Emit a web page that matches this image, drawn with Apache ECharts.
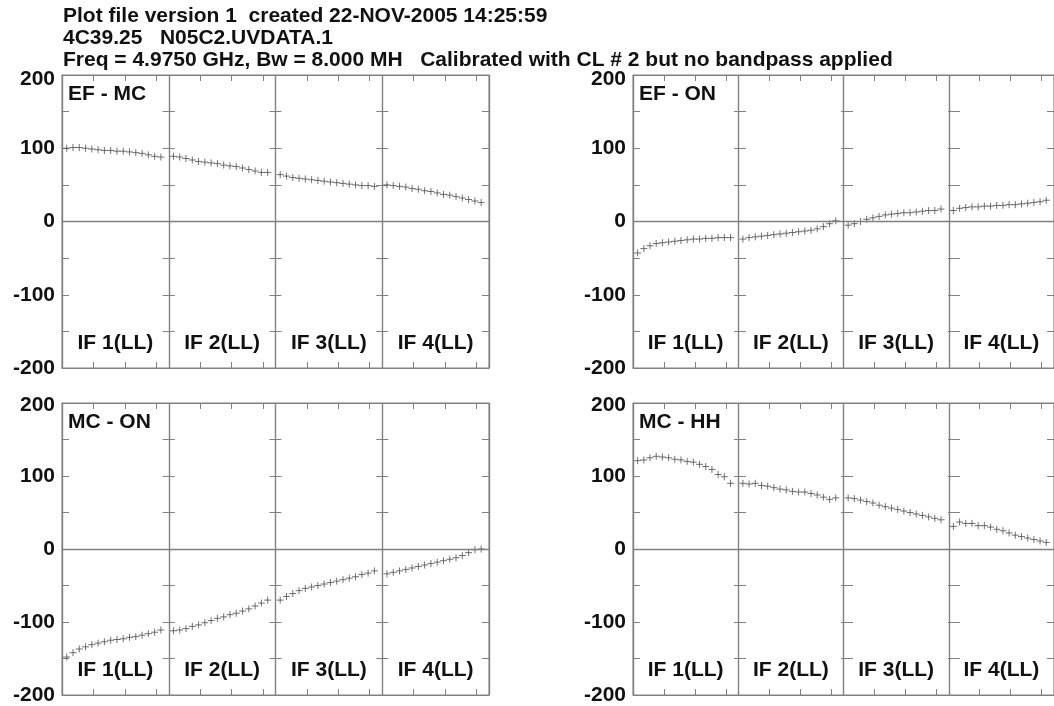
<!DOCTYPE html>
<html>
<head>
<meta charset="utf-8">
<script src="https://cdn.jsdelivr.net/npm/echarts@6/dist/echarts.min.js"></script>
<style>
html,body{margin:0;padding:0;background:#fff;}
#chart{width:1054px;height:706px;}
</style>
</head>
<body>
<div id="chart"></div>
<script>
// ---------- data ----------
const HEADER_LINES = [
  'Plot file version 1  created 22-NOV-2005 14:25:59',
  '4C39.25   N05C2.UVDATA.1',
  'Freq = 4.9750 GHz, Bw = 8.000 MH   Calibrated with CL # 2 but no bandpass applied'
];
const IF_NAMES = ['IF 1(LL)', 'IF 2(LL)', 'IF 3(LL)', 'IF 4(LL)'];
const CHANNELS = [1, 2, 3, 4, 5, 6, 7, 8, 9, 10, 11, 12, 13, 14, 15, 16];
const CHANNEL_TICKS = [5, 10, 15];
const Y_TICK_LABELS = [-200, -100, 0, 100, 200];
const BASELINES = ['EF - MC', 'EF - ON', 'MC - ON', 'MC - HH'];

const EF_MC_IF1 = [100, 101, 101, 100, 99, 98, 97, 97, 96, 96, 95, 94, 93, 91, 89, 88];
const EF_MC_IF2 = [89, 88, 86, 84, 82, 81, 80, 79, 77, 76, 75, 73, 71, 69, 67, 67];
const EF_MC_IF3 = [64, 62, 60, 59, 58, 57, 56, 55, 54, 53, 52, 51, 50, 49, 49, 48];
const EF_MC_IF4 = [50, 49, 48, 47, 45, 44, 42, 41, 39, 37, 36, 34, 32, 30, 28, 26];

const EF_ON_IF1 = [-43, -37, -33, -30, -29, -28, -27, -26, -25, -24, -24, -23, -23, -22, -22, -22];
const EF_ON_IF2 = [-24, -22, -21, -20, -19, -18, -17, -16, -15, -14, -13, -12, -10, -7, -3, 1];
const EF_ON_IF3 = [-5, -3, 0, 3, 5, 7, 9, 10, 11, 12, 12, 13, 14, 15, 15, 17];
const EF_ON_IF4 = [15, 18, 19, 20, 20, 21, 21, 22, 22, 23, 23, 24, 25, 26, 27, 29];

const MC_ON_IF1 = [-148, -142, -137, -134, -131, -129, -127, -125, -124, -123, -121, -120, -118, -116, -114, -111];
const MC_ON_IF2 = [-112, -111, -109, -106, -104, -101, -98, -95, -93, -90, -88, -85, -82, -78, -74, -70];
const MC_ON_IF3 = [-70, -65, -61, -57, -54, -52, -50, -48, -46, -44, -42, -40, -38, -35, -33, -30];
const MC_ON_IF4 = [-34, -32, -30, -28, -26, -24, -22, -20, -18, -16, -14, -12, -9, -5, -1, 0];

const MC_HH_IF1 = [121, 122, 125, 127, 126, 125, 123, 122, 120, 119, 116, 113, 109, 102, 99, 90];
const MC_HH_IF2 = [90, 89, 90, 87, 86, 84, 82, 81, 79, 78, 78, 76, 74, 71, 68, 70];
const MC_HH_IF3 = [70, 69, 67, 65, 63, 60, 58, 56, 54, 52, 50, 48, 46, 44, 42, 40];
const MC_HH_IF4 = [31, 37, 35, 35, 32, 32, 30, 27, 25, 22, 19, 17, 15, 13, 11, 9];

const PANEL_DATA = [
  [EF_MC_IF1, EF_MC_IF2, EF_MC_IF3, EF_MC_IF4],
  [EF_ON_IF1, EF_ON_IF2, EF_ON_IF3, EF_ON_IF4],
  [MC_ON_IF1, MC_ON_IF2, MC_ON_IF3, MC_ON_IF4],
  [MC_HH_IF1, MC_HH_IF2, MC_HH_IF3, MC_HH_IF4]
];

// ---------- layout / style ----------
const IF_SPAN = 17;          // channel units per IF panel
const CH_OFFSET = 0.25;
const FONT = "'Liberation Sans', Arial, sans-serif";
const FS = 21;
const FRAME = '#808080';
const MARK = '#4d4d4d';
const GRIDS = [
  {left: 62, top: 75, width: 427, height: 293},
  {left: 633, top: 75, width: 428, height: 293},
  {left: 62, top: 403, width: 427, height: 292},
  {left: 633, top: 403, width: 428, height: 292}
];
const TOP_LABEL_PAD = [8, 8, 4, 4];

const xTickValues = [];
IF_NAMES.forEach((n, k) => CHANNEL_TICKS.forEach(c => xTickValues.push(k * IF_SPAN + c)));
const xLabelValues = IF_NAMES.map((n, k) => k * IF_SPAN + IF_SPAN / 2);

const grid = [], xAxis = [], yAxis = [], series = [], graphic = [];
const X_PER_GRID = 3, Y_PER_GRID = 5;

GRIDS.forEach((g, gi) => {
  grid.push(Object.assign({show: true, borderColor: FRAME, borderWidth: 1, backgroundColor: '#fff'}, g));
  const xBase = {type: 'value', gridIndex: gi, min: 0, max: IF_SPAN * 4};
  // bottom axis: channel ticks + IF names
  xAxis.push(Object.assign({}, xBase, {
    position: 'bottom',
    axisLine: {show: true, onZero: false, lineStyle: {color: FRAME, width: 1}},
    axisTick: {show: true, inside: true, length: 6, customValues: xTickValues, lineStyle: {color: FRAME}},
    axisLabel: {
      show: true, inside: true, margin: 14, customValues: xLabelValues,
      formatter: v => IF_NAMES[Math.floor(v / IF_SPAN)],
      color: '#111', fontSize: FS, fontWeight: 'bold', fontFamily: FONT
    },
    splitLine: {show: false}
  }));
  // top axis: channel ticks
  xAxis.push(Object.assign({}, xBase, {
    position: 'top',
    axisLine: {show: true, onZero: false, lineStyle: {color: FRAME, width: 1}},
    axisTick: {show: true, inside: true, length: 6, customValues: xTickValues, lineStyle: {color: FRAME}},
    axisLabel: {show: false},
    splitLine: {show: false}
  }));
  // IF separators
  xAxis.push(Object.assign({}, xBase, {
    position: 'bottom', interval: IF_SPAN,
    axisLine: {show: false, onZero: false}, axisTick: {show: false}, axisLabel: {show: false},
    splitLine: {show: true, lineStyle: {color: FRAME, width: 1.4}}
  }));
  const yBase = {
    type: 'value', gridIndex: gi, min: -200, max: 200, interval: 50,
    splitLine: {show: false}
  };
  const labelStyle = {color: '#111', fontSize: FS, fontWeight: 'bold', fontFamily: FONT};
  yAxis.push(Object.assign({}, yBase, {
    position: 'left',
    axisLine: {show: true, onZero: false, lineStyle: {color: FRAME}},
    axisTick: {show: true, inside: true, length: 7, lineStyle: {color: FRAME}},
    axisLabel: Object.assign({
      show: true, margin: 7, customValues: Y_TICK_LABELS,
      formatter: v => (v === 200 ? '{t|' + v + '}' : String(v)),
      rich: {t: Object.assign({padding: [TOP_LABEL_PAD[gi], 0, 0, 0]}, labelStyle)}
    }, labelStyle)
  }));
  yAxis.push(Object.assign({}, yBase, {
    position: 'right',
    axisLine: {show: true, onZero: false, lineStyle: {color: FRAME}},
    axisTick: {show: true, inside: true, length: 7, lineStyle: {color: FRAME}},
    axisLabel: {show: false}
  }));
  // tick crosses on the IF separators
  for (let k = 1; k < IF_NAMES.length; k++) {
    yAxis.push(Object.assign({}, yBase, {
      position: 'left',
      offset: -(k * g.width / IF_NAMES.length + 6),
      axisLine: {show: false, onZero: false},
      axisTick: {show: true, inside: false, length: 12, lineStyle: {color: FRAME}},
      axisLabel: {show: false}
    }));
  }
  const pts = [];
  PANEL_DATA[gi].forEach((vals, k) => {
    vals.forEach((v, i) => pts.push([k * IF_SPAN + CHANNELS[i] - CH_OFFSET, v]));
  });
  series.push({
    type: 'scatter', xAxisIndex: gi * X_PER_GRID, yAxisIndex: gi * Y_PER_GRID,
    data: pts, silent: true,
    symbol: 'path://M0,5H10M5,0V10', symbolSize: 7,
    itemStyle: {color: 'none', borderColor: MARK, borderWidth: 1},
    markLine: {
      silent: true, symbol: 'none', label: {show: false},
      lineStyle: {color: FRAME, type: 'solid', width: 1.4},
      data: [{yAxis: 0}]
    },
    animation: false
  });
  graphic.push({
    type: 'text', left: g.left + 6, top: g.top + 9,
    style: {text: BASELINES[gi], fill: '#111', font: 'bold ' + FS + 'px ' + FONT}
  });
});

HEADER_LINES.forEach((t, i) => {
  graphic.push({
    type: 'text', left: 63, top: 6 + i * 21.8,
    style: {text: t, fill: '#111', font: 'bold ' + FS + 'px ' + FONT}
  });
});

const chart = echarts.init(document.getElementById('chart'), null, {renderer: 'canvas'});
chart.setOption({
  animation: false,
  backgroundColor: '#fff',
  grid, xAxis, yAxis, series, graphic
});
</script>
</body>
</html>
